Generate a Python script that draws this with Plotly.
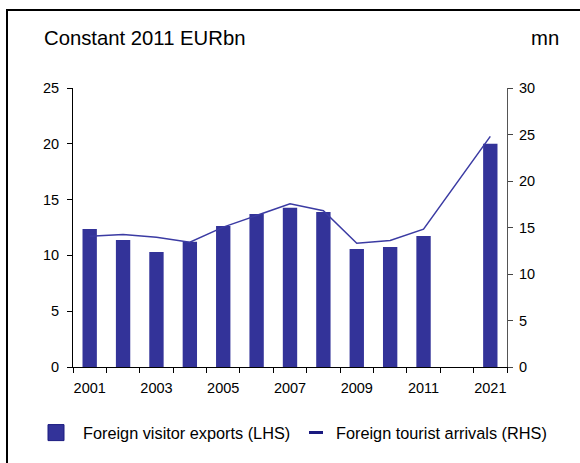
import plotly.graph_objects as go

categories = ["2001", "2002", "2003", "2004", "2005", "2006", "2007", "2008",
              "2009", "2010", "2011", "2012-20", "2021"]
tick_labels = ["2001", "", "2003", "", "2005", "", "2007", "", "2009", "",
               "2011", "", "2021"]
visitor_exports = [12.37, 11.38, 10.3, 11.23, 12.64, 13.72, 14.26, 13.9,
                   10.57, 10.75, 11.74, None, 20.0]
tourist_arrivals = [14.07, 14.25, 13.96, 13.42, 15.04, 16.33, 17.55, 16.8,
                    13.31, 13.6, 14.82, None, 24.8]
name_bar = "Foreign visitor exports (LHS)"
name_line = "Foreign tourist arrivals (RHS)"

FONT = "Arial, Liberation Sans, sans-serif"
BAR_C = "#333399"
LINE_C = "#3b3ba3"
KEY_C = "#1a1a80"

fig = go.Figure()
fig.add_trace(go.Bar(x=categories, y=visitor_exports, name=name_bar, showlegend=False,
                     marker=dict(color=BAR_C, line=dict(width=0)), yaxis="y"))
fig.add_trace(go.Scatter(x=categories, y=tourist_arrivals, name=name_line, showlegend=False,
                         mode="lines", connectgaps=True,
                         line=dict(color=LINE_C, width=1.5), yaxis="y2"))
# legend keys styled like the original
fig.add_trace(go.Scatter(x=[None], y=[None], mode="markers", name=name_bar, legend="legend",
                         marker=dict(symbol="square", size=20, color=BAR_C,
                                     line=dict(color=KEY_C, width=1))))
fig.add_trace(go.Scatter(x=[None], y=[None], mode="markers", name=name_line, yaxis="y2",
                         legend="legend2",
                         marker=dict(symbol="line-ew", size=10, color=KEY_C,
                                     line=dict(color=KEY_C, width=3))))

W, H = 580, 463
L, R, T, B = 73, 73, 88, 96
pw, ph = W - L - R, H - T - B

def px(x):
    return (x - L) / pw

def py(y):
    return (H - B - y) / ph

legend_common = dict(orientation="h", yanchor="middle", y=py(433), xanchor="left",
                     font=dict(size=16.3, family=FONT, color="black"),
                     itemsizing="trace", bgcolor="rgba(0,0,0,0)",
                     borderwidth=0)

fig.update_layout(
    width=W, height=H,
    margin=dict(l=L, r=R, t=T, b=B, pad=0),
    paper_bgcolor="white", plot_bgcolor="white",
    bargap=0.57,
    font=dict(family=FONT, size=14, color="black"),
    showlegend=True,
    legend=dict(x=px(29), itemwidth=44, **legend_common),
    legend2=dict(x=px(296), itemwidth=30, **legend_common),
    xaxis=dict(type="category", categoryorder="array", categoryarray=categories,
               tickmode="array", tickvals=categories, ticktext=tick_labels, tickangle=0,
               tickson="boundaries", ticks="outside", ticklen=5, tickcolor="black",
               showline=True, linecolor="black", linewidth=1, showgrid=False,
               ticklabelstandoff=8, tickfont=dict(size=14.5)),
    yaxis=dict(range=[0, 25], dtick=5, ticks="outside", ticklen=5, tickcolor="black",
               showline=True, linecolor="black", linewidth=1, showgrid=False,
               ticklabelstandoff=5, zeroline=False, tickfont=dict(size=14.5)),
    yaxis2=dict(range=[0, 30], dtick=5, ticks="outside", ticklen=5, tickcolor="#444",
                showline=True, linecolor="#555", linewidth=1, showgrid=False,
                ticklabelstandoff=3, zeroline=False, overlaying="y", side="right",
                tickfont=dict(size=14.5)),
    annotations=[
        dict(text="Constant 2011 EURbn", x=px(42), y=py(38), xref="paper", yref="paper",
             xanchor="left", yanchor="middle", showarrow=False, font=dict(size=20.3)),
        dict(text="mn", x=px(561), y=py(38), xref="paper", yref="paper",
             xanchor="right", yanchor="middle", showarrow=False, font=dict(size=20.3)),
    ],
    shapes=[
        dict(type="line", xref="paper", yref="paper", x0=px(6), x1=px(600), y0=py(10), y1=py(10),
             line=dict(color="black", width=2)),
        dict(type="line", xref="paper", yref="paper", x0=px(7), x1=px(7), y0=py(9), y1=py(500),
             line=dict(color="black", width=2)),
    ],
)

fig.write_html("out.html", config={"displayModeBar": False},
               post_script="document.body.style.margin='0';")
